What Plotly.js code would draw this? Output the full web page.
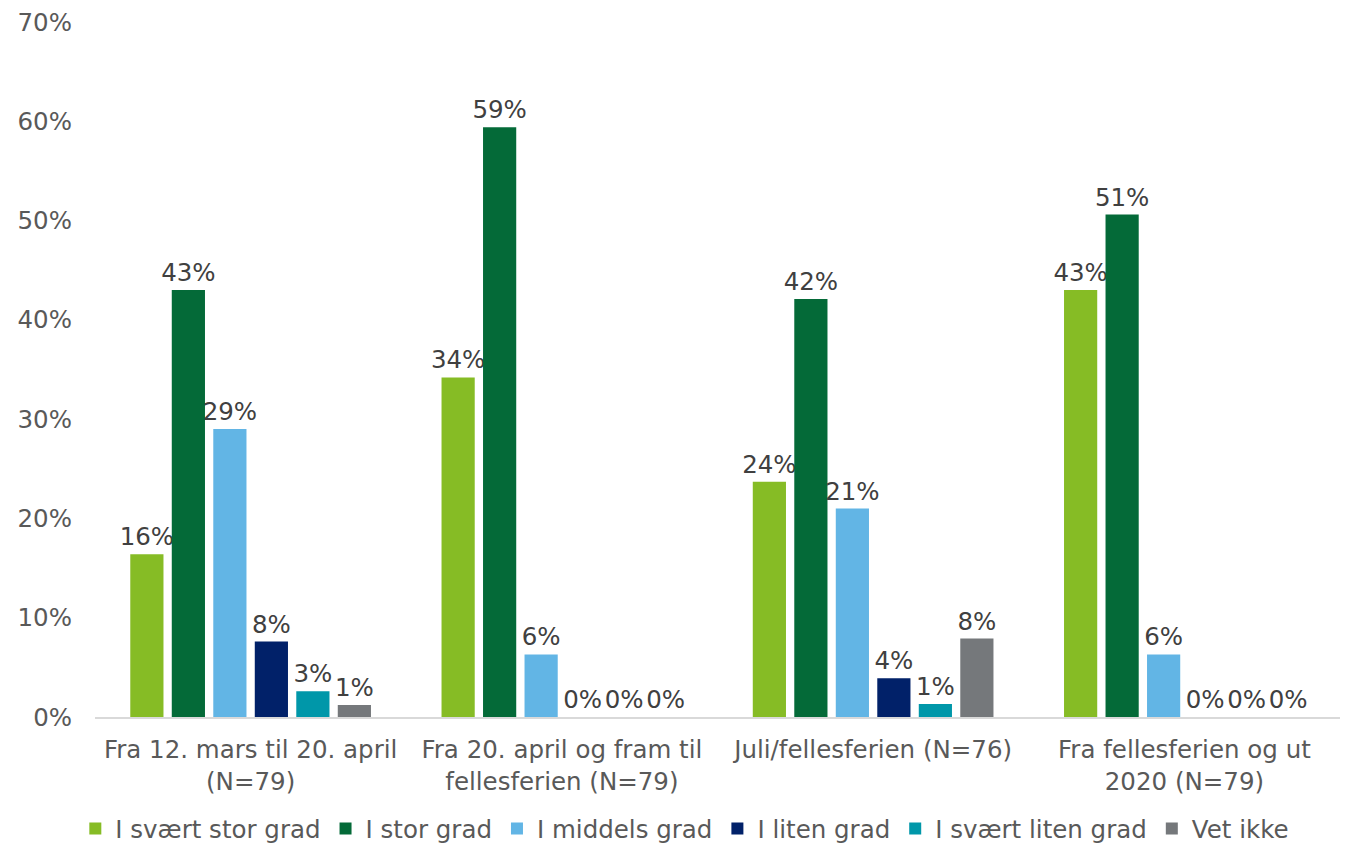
<!DOCTYPE html>
<html>
<head>
<meta charset="utf-8">
<script src="https://cdn.plot.ly/plotly-3.0.1.min.js"></script>
<style>html,body{margin:0;padding:0;background:#fff;}#chart{width:1345px;height:844px;}</style>
</head>
<body>
<div id="chart"></div>
<script>
const categories = [
  "Fra 12. mars til 20. april<br>(N=79)",
  "Fra 20. april og fram til<br>fellesferien (N=79)",
  "Juli/fellesferien (N=76)",
  "Fra fellesferien og ut<br>2020 (N=79)"
];
const seriesNames = ["I svært stor grad", "I stor grad", "I middels grad", "I liten grad", "I svært liten grad", "Vet ikke"];
const svaertStorGrad = [0.164, 0.342, 0.237, 0.430];
const storGrad = [0.430, 0.594, 0.421, 0.506];
const middelsGrad = [0.290, 0.063, 0.210, 0.063];
const litenGrad = [0.076, 0, 0.039, 0];
const svaertLitenGrad = [0.026, 0, 0.013, 0];
const vetIkke = [0.012, 0, 0.079, 0];
const yTickVals = [0, 0.1, 0.2, 0.3, 0.4, 0.5, 0.6, 0.7];

const seriesValues = [svaertStorGrad, storGrad, middelsGrad, litenGrad, svaertLitenGrad, vetIkke];
const colors = ["#86BC25", "#046A38", "#62B5E5", "#012169", "#0097A9", "#75787B"];
const FONT = "DejaVu Sans, Verdana, sans-serif";

const traces = seriesNames.map((name, i) => ({
  type: "bar",
  name: name,
  x: categories,
  y: seriesValues[i],
  marker: {color: colors[i]},
  texttemplate: "%{y:.0%}",
  textposition: "outside",
  constraintext: "none",
  cliponaxis: false,
  textfont: {family: FONT, size: 24.5, color: "#404040"},
  hoverinfo: "none"
}));

const layout = {
  width: 1345,
  height: 844,
  margin: {l: 95, r: 5, t: 22, b: 127, autoexpand: false},
  paper_bgcolor: "#ffffff",
  plot_bgcolor: "#ffffff",
  barmode: "group",
  bargap: 0.2,
  bargroupgap: 0.2,
  font: {family: FONT, size: 24.5, color: "#595959"},
  xaxis: {
    type: "category",
    showline: true,
    linecolor: "#D9D9D9",
    linewidth: 2,
    showgrid: false,
    ticks: "",
    ticklabelstandoff: 10,
    tickfont: {family: FONT, size: 24.5, color: "#595959"},
    fixedrange: true
  },
  yaxis: {
    range: [0, 0.7],
    tickvals: yTickVals,
    tickformat: ".0%",
    showgrid: false,
    zeroline: false,
    showline: false,
    ticks: "",
    ticklabelstandoff: 22,
    tickfont: {family: FONT, size: 24.5, color: "#595959"},
    fixedrange: true
  },
  legend: {
    orientation: "h",
    xref: "container",
    x: 0.056,
    xanchor: "left",
    yref: "container",
    y: 0.045,
    yanchor: "top",
    font: {family: FONT, size: 24.5, color: "#595959"},
    itemwidth: 30,
    traceorder: "normal"
  },
  showlegend: true
};

Plotly.newPlot("chart", traces, layout, {displayModeBar: false, staticPlot: true});
</script>
</body>
</html>
